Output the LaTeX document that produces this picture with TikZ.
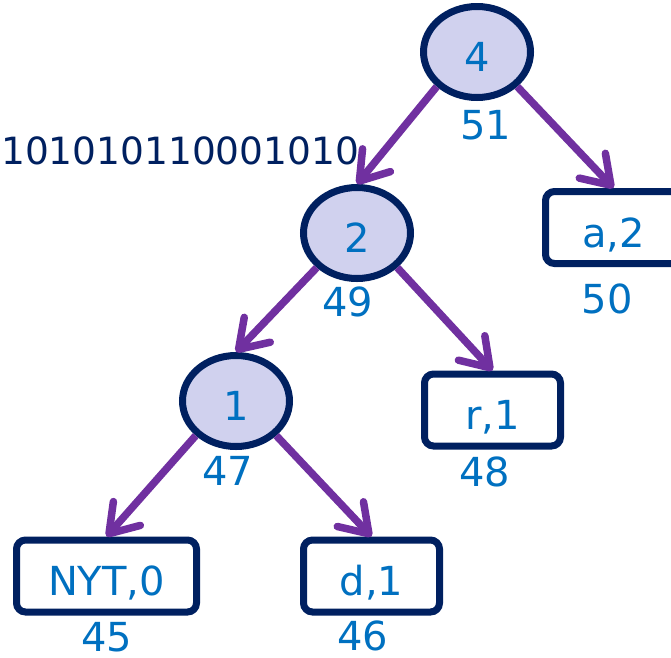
\documentclass[tikz,border=0pt]{standalone}
\usepackage{fontspec}
\setmainfont{DejaVu Sans}
\usetikzlibrary{arrows.meta,shapes.geometric}
\definecolor{navy}{HTML}{002060}
\definecolor{tblue}{HTML}{0070C0}
\definecolor{edgepurple}{HTML}{7030A0}
\definecolor{lav}{HTML}{D0D1EE}
\tikzset{
  inode/.style={ellipse, draw=navy, line width=7pt, fill=lav,
    minimum width=107pt, minimum height=91pt, inner sep=0pt,
    text=tblue, font=\fontsize{40}{48}\selectfont, text height=39pt, text depth=0pt},
  leaf/.style={rectangle, rounded corners=9pt, draw=navy, line width=7pt, fill=white,
    minimum width=136pt, minimum height=72pt, inner sep=0pt,
    text=tblue, font=\fontsize{40}{48}\selectfont, text height=39pt, text depth=0pt},
  num/.style={text=tblue, font=\fontsize{40}{48}\selectfont, inner sep=0pt},
  treeedge/.style={draw=edgepurple, line width=7.5pt,
    -{Straight Barb[length=27pt,width=36pt,round]}}
}
\begin{document}
\begin{tikzpicture}[x=1pt,y=-1pt]
\useasboundingbox (0,0) rectangle (671,657);
% internal nodes
\node[inode] (n4) at (477,52) {4};
\node[inode] (n2) at (357,233) {2};
\node[inode] (n1) at (236,401) {1};
% leaves
\node[leaf] (a) at (613.5,227.5) {a,2};
\node[leaf] (r) at (492.5,410) {r,1};
\node[leaf, minimum width=180pt] (nyt) at (106.5,576) {NYT,0};
\node[leaf] (d) at (371.5,576) {d,1};
% numbers
\node[num] (l51) at (486,125) {51};
\node[num] (l49) at (348,302) {49};
\node[num] (l47) at (228,471) {47};
\node[num] (l50) at (607,299) {50};
\node[num] (l48) at (485,472) {48};
\node[num] (l45) at (107,637) {45};
\node[num] (l46) at (363,636) {46};
% code
\node[anchor=west, inner sep=0pt, text=navy, font=\fontsize{37.5}{45}\selectfont] (code) at (1,151) {101010110001010};
% edges
\draw[treeedge] (n4.south west) -- (n2.north);
\draw[treeedge] (n4.south east) -- (a.north);
\draw[treeedge] (n2.south west) -- (n1.north);
\draw[treeedge] (n2.south east) -- (r.north);
\draw[treeedge] (n1.south west) -- (nyt.north);
\draw[treeedge] (n1.south east) -- (d.north);
\end{tikzpicture}
\end{document}
